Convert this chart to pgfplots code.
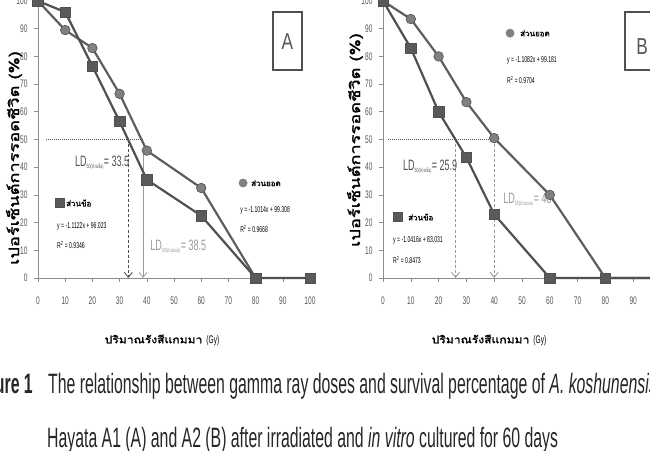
\documentclass[border=0pt]{standalone}
\usepackage{pgfplots}
\pgfplotsset{compat=1.18}
\usepackage{fontspec}
\usetikzlibrary{arrows.meta}
\setmainfont{Liberation Sans}
\newfontfamily\narrow{Liberation Sans}[FakeStretch=0.6]
\newfontfamily\capfont{Liberation Sans}[FakeStretch=0.565]
\newfontfamily\boxfont{Liberation Sans}[FakeStretch=0.75]
\newfontfamily\thai[Script=Thai,FakeBold=1.5]{Loma}
\newfontfamily\thaiS[Script=Thai,FakeStretch=0.55]{Loma}
\newfontfamily\thaiX[Script=Thai,FakeBold=1.5,FakeStretch=1.15]{Loma}
\newfontfamily\thaiN[Script=Thai,FakeBold=1.8,FakeStretch=1.3]{Loma}
\definecolor{lineg}{HTML}{505050}
\definecolor{lineg2}{HTML}{5E5E5E}
\definecolor{markg}{HTML}{5A5A5A}
\definecolor{markc}{HTML}{808080}
\definecolor{axg}{HTML}{8C8C8C}
\definecolor{txtg}{HTML}{555555}
\definecolor{ltg}{HTML}{9A9A9A}
\pgfplotsset{
  panel/.style={
    anchor=south west, scale only axis, height=277pt,
    xmin=0,xmax=100,ymin=0,ymax=100, clip=false,
    axis lines=left, axis line style={-, axg, line width=0.8pt},
    xtick={0,10,...,100}, ytick={0,10,...,100},
    tick align=outside, major tick length=4pt,
    tick style={axg, line width=0.6pt},
    ticklabel style={font=\narrow\fontsize{11}{12}\selectfont, text=txtg},
    xticklabel style={yshift=-11pt}, yticklabel style={xshift=-3pt},
    /pgf/number format/assume math mode=true,
  },
  sq/.style={lineg, line width=2.2pt, mark=square*, mark size=5.2pt,
    mark options={fill=markg, draw=lineg, line width=0.6pt}},
  ci/.style={lineg2, line width=2.2pt, mark=*, mark size=4.8pt,
    mark options={fill=markc, draw=lineg, line width=0.6pt}},
  sqleg/.style={only marks, mark=square*, mark size=4.5pt, mark options={fill=markg, draw=lineg}},
  cileg/.style={only marks, mark=*, mark size=4.2pt, mark options={fill=markc, draw=markc}},
}
\tikzset{
  eqtext/.style={anchor=west, inner sep=0pt, font=\narrow\fontsize{8.5}{9}\selectfont, text=black},
  ldtext/.style={anchor=west, inner sep=0pt, font=\narrow\fontsize{15}{16}\selectfont},
  legtext/.style={anchor=west, inner sep=0pt, font=\thai\fontsize{8}{9}\selectfont, text=black},
}
\newcommand{\sub}[1]{\textsubscript{\fontsize{6}{6}\selectfont 50(\thaiS #1)}}
\begin{document}
\begin{tikzpicture}
\path[use as bounding box] (0,0) rectangle (650pt,450pt);
\clip (0,0) rectangle (650pt,450pt);
% ---------------- Panel A ----------------
\begin{axis}[panel, at={(38pt,172pt)}, width=272pt]
\addplot[densely dotted, lineg, line width=1pt] coordinates {(3,50)(38.5,50)};
\addplot[densely dashed, lineg, line width=0.9pt, -{Straight Barb[length=5pt,width=8pt]}] coordinates {(33.2,50)(33.2,0)};
\addplot[ltg, line width=0.8pt, -{Straight Barb[length=5pt,width=8pt]}] coordinates {(38.6,47)(38.6,0)};
\addplot[ci] coordinates {(0,100)(10,89.5)(20,83)(30,66.5)(40,46)(60,32.5)(80,0)};
\addplot[sq] coordinates {(0,100)(10,96)(20,76.5)(30,56.5)(40,35.5)(60,22.5)(80,0)(100,0)};
\addplot[sqleg] coordinates {(8.1,27.1)};
\addplot[cileg] coordinates {(75.4,34.3)};
\node[legtext] at (axis cs:10.3,27.1) {ส่วนข้อ};
\node[eqtext] at (axis cs:7.0,18.8) {y = -1.1122x + 96.023};
\node[eqtext] at (axis cs:7.0,11.9) {R\textsuperscript{2} = 0.9346};
\node[legtext] at (axis cs:78.3,34.3) {ส่วนยอด};
\node[eqtext] at (axis cs:74.3,24.5) {y = -1.1014x + 99.308};
\node[eqtext] at (axis cs:74.3,17.7) {R\textsuperscript{2} = 0.9668};
\node[ldtext, text=lineg] at (axis cs:13.6,41.5) {LD\sub{ส่วนข้อ}= 33.5};
\node[ldtext, text=ltg] at (axis cs:41.2,11.2) {LD\sub{ส่วนยอด}= 38.5};
\draw[lineg, line width=1.6pt] (axis cs:86.4,96) rectangle (axis cs:97,75.1);
\node[font=\boxfont\fontsize{23}{24}\selectfont, text=txtg] at (axis cs:91.7,85.5) {A};
\end{axis}
% ---------------- Panel B ----------------
\begin{axis}[panel, at={(383pt,172pt)}, width=278pt]
\addplot[densely dotted, lineg, line width=1pt] coordinates {(1.8,50)(40,50)};
\addplot[densely dashed, ltg, line width=0.9pt, -{Straight Barb[length=5pt,width=8pt]}] coordinates {(26.1,50)(26.1,0)};
\addplot[densely dashed, ltg, line width=0.9pt, -{Straight Barb[length=5pt,width=8pt]}] coordinates {(40,50)(40,0)};
\addplot[ci] coordinates {(0,100)(10,93.5)(20,80)(30,63.5)(40,50.5)(60,30)(80,0)(100,0)};
\addplot[sq] coordinates {(0,100)(10,83)(20,60)(30,43.5)(40,23)(60,0)(80,0)(100,0)};
\addplot[cileg] coordinates {(45.7,88.4)};
\addplot[sqleg] coordinates {(5.4,22)};
\node[legtext] at (axis cs:49.3,88.4) {ส่วนยอด};
\node[eqtext] at (axis cs:44.6,78.7) {y = -1.1082x + 99.181};
\node[eqtext] at (axis cs:44.6,71.5) {R\textsuperscript{2} = 0.9704};
\node[legtext] at (axis cs:9.0,22) {ส่วนข้อ};
\node[eqtext] at (axis cs:3.6,13.7) {y = -1.0416x + 83.031};
\node[eqtext] at (axis cs:3.6,6.5) {R\textsuperscript{2} = 0.8473};
\node[ldtext, text=lineg] at (axis cs:7.2,40) {LD\sub{ส่วนข้อ}= 25.9};
\node[ldtext, text=ltg] at (axis cs:43.2,28.2) {LD\sub{ส่วนยอด}= 40};
\draw[lineg, line width=1.6pt] (axis cs:87,96) rectangle (axis cs:97.4,75.1);
\node[font=\boxfont\fontsize{23}{24}\selectfont, text=txtg] at (axis cs:93.2,83.4) {B};
\end{axis}
% ---------------- axis titles ----------------
\node[font=\thaiX\fontsize{10.5}{11}\selectfont, text=black] at (162pt,110pt) {ปริมาณรังสีแกมมา \narrow\fontsize{11}{11}\selectfont(Gy)};
\node[font=\thaiX\fontsize{10.5}{11}\selectfont, text=black] at (489pt,110pt) {ปริมาณรังสีแกมมา \narrow\fontsize{11}{11}\selectfont(Gy)};
\node[rotate=90, font=\thaiN\fontsize{14}{15}\selectfont, text=black] at (14pt,292pt) {เปอร์เซ็นต์การรอดชีวิต (\%)};
\node[rotate=90, font=\thaiN\fontsize{14}{15}\selectfont, text=black] at (355pt,310pt) {เปอร์เซ็นต์การรอดชีวิต (\%)};
% ---------------- caption ----------------
\node[anchor=base east, inner sep=0pt, font=\capfont\bfseries\fontsize{28}{30}\selectfont, text=black!85] at (33pt,57pt) {Figure 1};
\node[anchor=base west, inner sep=0pt, font=\capfont\fontsize{28}{30}\selectfont, text=black!85] at (48pt,57pt) {The relationship between gamma ray doses and survival percentage of \textit{A. koshunensis}};
\node[anchor=base west, inner sep=0pt, font=\capfont\fontsize{28}{30}\selectfont, text=black!85] at (47pt,3pt) {Hayata A1 (A) and A2 (B) after irradiated and \textit{in vitro} cultured for 60 days};
\end{tikzpicture}
\end{document}
